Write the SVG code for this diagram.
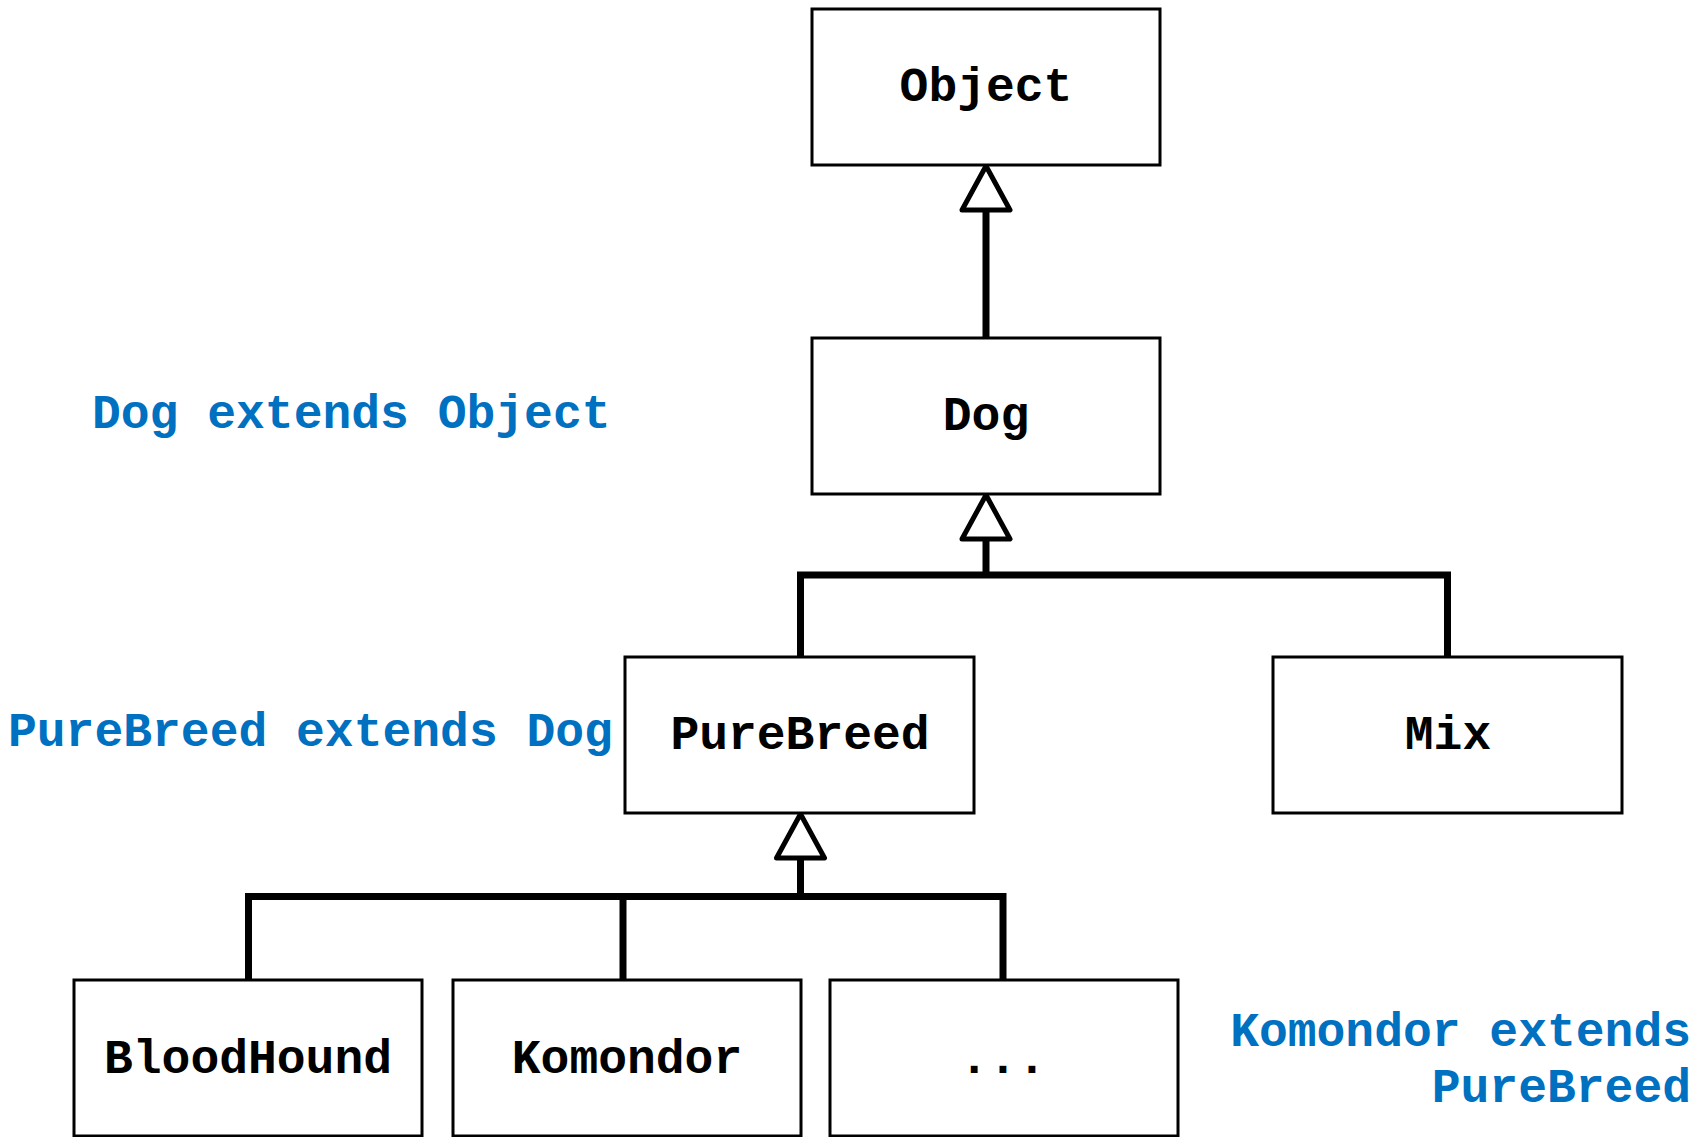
<svg xmlns="http://www.w3.org/2000/svg" width="1708" height="1137" viewBox="0 0 1708 1137">
<style>
.box{fill:#fff;stroke:#000;stroke-width:3}
.lbl{font-family:"Liberation Mono","Courier New",monospace;font-weight:bold;font-size:48px;fill:#000;text-anchor:middle}
.note{font-family:"Liberation Mono","Courier New",monospace;font-weight:bold;font-size:48px;fill:#0070C0}
.wire{fill:none;stroke:#000;stroke-width:7;stroke-linejoin:miter;stroke-linecap:butt}
.head{fill:#fff;stroke:#000;stroke-width:5;stroke-linejoin:round}
</style>
<rect width="1708" height="1137" fill="#fff"/>
<g id="connectors">
  <line class="wire" x1="986" y1="208" x2="986" y2="337"/>
  <polyline class="wire" points="800.5,657 800.5,575 1447.5,575 1447.5,657"/>
  <line class="wire" x1="986" y1="539" x2="986" y2="575"/>
  <polyline class="wire" points="248.5,980 248.5,896.5 1003,896.5 1003,980"/>
  <line class="wire" x1="623" y1="896.5" x2="623" y2="980"/>
  <line class="wire" x1="800.5" y1="856" x2="800.5" y2="896.5"/>
  <polygon class="head" points="986,166 1010,210 962,210"/>
  <polygon class="head" points="986,495 1010,539 962,539"/>
  <polygon class="head" points="800.5,814 824.5,858 776.5,858"/>
</g>
<g id="node-object">
  <rect class="box" x="812" y="9" width="348" height="156"/>
  <text class="lbl" x="986" y="101">Object</text>
</g>
<g id="node-dog">
  <rect class="box" x="812" y="338" width="348" height="156"/>
  <text class="lbl" x="986" y="430">Dog</text>
</g>
<g id="node-purebreed">
  <rect class="box" x="625" y="657" width="349" height="156"/>
  <text class="lbl" x="800" y="749">PureBreed</text>
</g>
<g id="node-mix">
  <rect class="box" x="1273" y="657" width="349" height="156"/>
  <text class="lbl" x="1448" y="749">Mix</text>
</g>
<g id="node-bloodhound">
  <rect class="box" x="74" y="980" width="348" height="156"/>
  <text class="lbl" x="248" y="1073">BloodHound</text>
</g>
<g id="node-komondor">
  <rect class="box" x="453" y="980" width="348" height="156"/>
  <text class="lbl" x="627" y="1073">Komondor</text>
</g>
<g id="node-more">
  <rect class="box" x="830" y="980" width="348" height="156"/>
  <text class="lbl" x="1003" y="1073">...</text>
</g>
<g id="notes">
  <text class="note" x="92" y="428">Dog extends Object</text>
  <text class="note" x="8" y="746">PureBreed extends Dog</text>
  <text class="note" x="1691" y="1046" text-anchor="end">Komondor extends</text>
  <text class="note" x="1691" y="1102" text-anchor="end">PureBreed</text>
</g>
</svg>
